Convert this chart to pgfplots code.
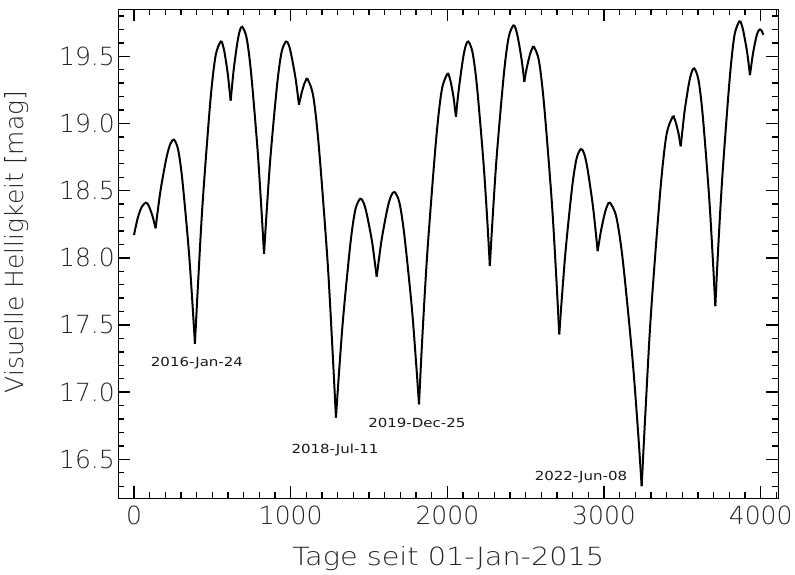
\documentclass[border=0pt]{standalone}
\usepackage{pgfplots}
\pgfplotsset{compat=1.18}
\usepackage{fontspec}
\newfontfamily\idlfont{DejaVu Sans ExtraLight}
\newfontfamily\idlwide{DejaVu Sans ExtraLight}[FakeStretch=1.15]
\newfontfamily\idlnote{DejaVu Sans}[FakeStretch=1.2]

\tikzset{lobe/.style={black, line width=2pt, smooth}}

\begin{document}
\begin{tikzpicture}
\begin{axis}[
    name=ax,
    scale only axis,
    width=660pt, height=489pt,
    xmin=-100, xmax=4112,
    ymin=16.21, ymax=19.85,
    axis line style={line width=1.5pt},
    xtick={0,1000,2000,3000,4000},
    minor xtick={0,100,...,4100},
    ytick={16.5,17.0,...,19.5},
    minor ytick={16.3,16.4,...,19.8},
    major tick length=12pt, minor tick length=6pt,
    every tick/.style={black, line width=1.4pt},
    tick align=inside,
    /pgf/number format/assume math mode=true,
    /pgf/number format/1000 sep={},
    yticklabel style={/pgf/number format/fixed, /pgf/number format/fixed zerofill, /pgf/number format/precision=1},
    tick label style={font=\idlfont\fontsize{25}{30}\selectfont, text=black!85},
    xticklabel style={yshift=-4pt},
    xlabel={Tage seit 01-Jan-2015},
    ylabel={Visuelle Helligkeit [mag]},
    xlabel style={font=\idlwide\fontsize{25}{30}\selectfont, text=black!85, at={(axis description cs:0.5,-0.1384)}, anchor=base},
    ylabel style={font=\idlfont\fontsize{25}{30}\selectfont, text=black!85, at={(axis description cs:-0.1535,0.524)}, anchor=center},
]
% each arc between two cusps drawn on its own
\addplot[lobe] coordinates {(0,18.17) (25,18.30) (50,18.38) (75,18.41) (88,18.40) (100,18.372) (119,18.308) (130,18.258) (138,18.22)};
\addplot[lobe] coordinates {(138,18.22) (152,18.352) (173,18.527) (208,18.748) (232,18.847) (255,18.88) (282,18.804) (309,18.576) (349,18.067) (373,17.664) (389,17.36)};
\addplot[lobe] coordinates {(389,17.36) (409,17.81) (438,18.406) (487,19.16) (520,19.498) (553,19.61) (566,19.588) (579,19.522) (598,19.375) (609,19.258) (617,19.17)};
\addplot[lobe] coordinates {(617,19.17) (626,19.28) (639,19.426) (661,19.61) (676,19.693) (691,19.72) (719,19.636) (747,19.382) (788,18.816) (813,18.368) (830,18.03)};
\addplot[lobe] coordinates {(830,18.03) (847,18.346) (872,18.765) (914,19.294) (942,19.531) (970,19.61) (987,19.587) (1003,19.516) (1028,19.359) (1043,19.234) (1053,19.14)};
\addplot[lobe] coordinates {(1053,19.14) (1060,19.178) (1070,19.228) (1086,19.292) (1097,19.32) (1108,19.33) (1144,19.204) (1180,18.826) (1235,17.982) (1267,17.314) (1289,16.81)};
\addplot[lobe] coordinates {(1289,16.81) (1308,17.136) (1336,17.568) (1382,18.114) (1413,18.359) (1444,18.44) (1465,18.411) (1486,18.324) (1518,18.13) (1536,17.976) (1549,17.86)};
\addplot[lobe] coordinates {(1549,17.86) (1563,17.986) (1583,18.153) (1617,18.364) (1640,18.459) (1663,18.49) (1694,18.411) (1725,18.174) (1772,17.645) (1800,17.226) (1819,16.91)};
\addplot[lobe] coordinates {(1819,16.91) (1840,17.402) (1873,18.054) (1928,18.878) (1964,19.247) (2000,19.37) (2011,19.354) (2022,19.306) (2039,19.199) (2048,19.114) (2055,19.05)};
\addplot[lobe] coordinates {(2055,19.05) (2064,19.162) (2079,19.31) (2102,19.498) (2118,19.582) (2134,19.61) (2161,19.527) (2189,19.276) (2230,18.717) (2255,18.274) (2271,17.94)};
\addplot[lobe] coordinates {(2271,17.94) (2289,18.298) (2316,18.772) (2361,19.372) (2391,19.641) (2421,19.73) (2435,19.709) (2449,19.646) (2470,19.505) (2483,19.394) (2491,19.31)};
\addplot[lobe] coordinates {(2491,19.31) (2498,19.362) (2510,19.431) (2528,19.518) (2541,19.557) (2553,19.57) (2585,19.463) (2617,19.142) (2666,18.425) (2695,17.858) (2714,17.43)};
\addplot[lobe] coordinates {(2714,17.43) (2731,17.706) (2756,18.072) (2797,18.534) (2825,18.741) (2853,18.81) (2874,18.772) (2895,18.658) (2927,18.403) (2946,18.202) (2959,18.05)};
\addplot[lobe] coordinates {(2959,18.05) (2969,18.122) (2983,18.217) (3006,18.338) (3022,18.392) (3038,18.41) (3078,18.305) (3119,17.988) (3179,17.281) (3216,16.722) (3240,16.30)};
\addplot[lobe] coordinates {(3240,16.30) (3264,16.85) (3299,17.579) (3359,18.5) (3398,18.913) (3438,19.05) (3448,19.039) (3458,19.006) (3474,18.932) (3483,18.874) (3489,18.83)};
\addplot[lobe] coordinates {(3489,18.83) (3500,18.946) (3515,19.10) (3541,19.294) (3559,19.381) (3576,19.41) (3603,19.322) (3630,19.056) (3670,18.463) (3694,17.994) (3710,17.64)};
\addplot[lobe] coordinates {(3710,17.64) (3728,18.064) (3756,18.626) (3802,19.336) (3832,19.654) (3863,19.76) (3877,19.74) (3890,19.68) (3911,19.546) (3923,19.44) (3931,19.36)};
\addplot[lobe] coordinates {(3931,19.36) (3939,19.428) (3950,19.518) (3969,19.632) (3982,19.683) (3995,19.70) (4006,19.69) (4016,19.66)};

% dates of the brightest oppositions
\begin{scope}[every node/.style={font=\idlnote\fontsize{12.5}{15}\selectfont, text=black!90}]
\node at (axis cs:402,17.217) {2016-Jan-24};
\node at (axis cs:1283,16.571) {2018-Jul-11};
\node at (axis cs:1805,16.771) {2019-Dec-25};
\node at (axis cs:2853,16.365) {2022-Jun-08};
\end{scope}
\end{axis}
\pgfresetboundingbox
\path[use as bounding box] ([shift={(-118.3pt,-76.7pt)}]ax.south west) rectangle ([shift={(16.7pt,9.3pt)}]ax.north east);
\end{tikzpicture}
\end{document}
